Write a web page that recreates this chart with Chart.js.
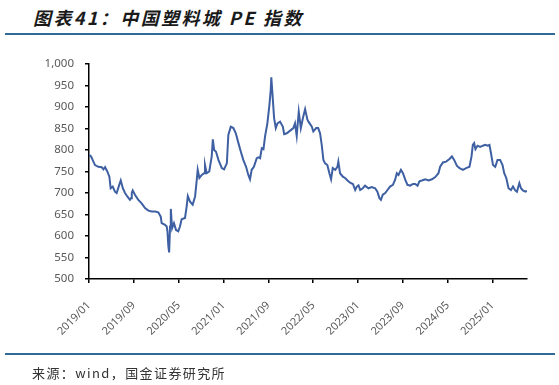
<!DOCTYPE html>
<html>
<head>
<meta charset="utf-8">
<script src="https://cdn.jsdelivr.net/npm/chart.js@4.4.1/dist/chart.umd.min.js"></script>
<style>
  html, body { margin: 0; padding: 0; background: #fff; }
  #wrap { position: relative; width: 559px; height: 385px; overflow: hidden; }
  #chart { position: absolute; left: 0; top: 0; }
  .title {
    position: absolute; left: 33px; top: 4px;
    font-family: "Noto Sans CJK SC", sans-serif; font-weight: bold; font-style: italic;
    font-size: 18px; letter-spacing: 2.4px; color: #1a1a1a; white-space: nowrap;
  }
  .rule { position: absolute; left: 5px; width: 550px; height: 2px; background: #2f6a99; }
  .source {
    position: absolute; left: 32px; top: 363px;
    font-family: "Noto Sans CJK SC", sans-serif; font-size: 13px; letter-spacing: 1.4px;
    color: #333; white-space: nowrap;
  }
</style>
</head>
<body>
<div id="wrap">
  <div class="title">图表41：中国塑料城 PE 指数</div>
  <div class="rule" style="top:33px"></div>
  <canvas id="chart" width="559" height="385"></canvas>
  <div class="rule" style="top:353px"></div>
  <div class="source">来源：wind，国金证券研究所</div>
</div>
<script>
// PE 指数
const dates = [
  '2019-01-01','2019-01-12','2019-02-03','2019-02-21','2019-03-09','2019-03-18','2019-03-27','2019-04-09',
  '2019-04-20','2019-04-27','2019-05-08','2019-05-20','2019-05-29','2019-06-13','2019-06-21','2019-07-02',
  '2019-07-14','2019-07-26','2019-08-10','2019-08-16','2019-08-20','2019-08-25','2019-09-07','2019-09-25',
  '2019-10-13','2019-11-01','2019-11-19','2019-12-07','2019-12-25','2020-01-12','2020-01-25','2020-01-30',
  '2020-02-18','2020-02-27','2020-03-01','2020-03-06','2020-03-10','2020-03-15','2020-03-19','2020-03-26',
  '2020-04-06','2020-04-17','2020-04-29','2020-05-08','2020-05-17','2020-06-05','2020-06-14','2020-06-20',
  '2020-07-02','2020-07-16','2020-07-29','2020-08-08','2020-08-13','2020-08-22','2020-09-05','2020-09-17',
  '2020-09-22','2020-10-01','2020-10-15','2020-10-28','2020-11-04','2020-11-11','2020-11-21','2020-12-04',
  '2020-12-22','2021-01-04','2021-01-19','2021-01-27','2021-02-10','2021-02-24','2021-03-07','2021-03-21',
  '2021-04-04','2021-04-17','2021-05-02','2021-05-14','2021-05-23','2021-06-02','2021-06-14','2021-06-29',
  '2021-07-08','2021-07-17','2021-07-26','2021-08-05','2021-08-14','2021-08-26','2021-09-07','2021-09-14',
  '2021-09-17','2021-09-23','2021-10-02','2021-10-11','2021-10-20','2021-11-04','2021-11-19','2021-11-26',
  '2021-12-10','2021-12-28','2022-01-15','2022-01-24','2022-02-03','2022-02-14','2022-02-25','2022-03-06',
  '2022-03-18','2022-03-30','2022-04-06','2022-04-24','2022-05-02','2022-05-17','2022-05-28','2022-06-08',
  '2022-06-17','2022-06-26','2022-07-05','2022-07-17','2022-07-28','2022-08-07','2022-08-16','2022-08-29',
  '2022-09-11','2022-09-16','2022-09-25','2022-10-10','2022-10-22','2022-11-05','2022-11-19','2022-12-04',
  '2022-12-16','2022-12-25','2023-01-04','2023-01-13','2023-01-27','2023-02-09','2023-02-27','2023-03-15',
  '2023-04-03','2023-04-15','2023-04-26','2023-05-04','2023-05-14','2023-05-27','2023-06-09','2023-06-23',
  '2023-07-08','2023-07-20','2023-07-29','2023-08-08','2023-08-21','2023-09-02','2023-09-14','2023-09-26',
  '2023-10-11','2023-10-25','2023-11-07','2023-11-20','2023-11-30','2023-12-13','2024-01-01','2024-01-19',
  '2024-02-07','2024-02-25','2024-03-12','2024-03-21','2024-04-06','2024-04-23','2024-05-11','2024-05-24',
  '2024-06-06','2024-06-21','2024-07-05','2024-07-23','2024-08-10','2024-08-28','2024-09-09','2024-09-16',
  '2024-09-23','2024-09-30','2024-10-11','2024-10-25','2024-11-10','2024-11-22','2024-12-05','2024-12-15',
  '2024-12-23','2025-01-04','2025-01-16','2025-01-28','2025-02-12','2025-02-25','2025-03-04','2025-03-15',
  '2025-03-27','2025-04-10','2025-04-21','2025-05-03','2025-05-12','2025-05-25','2025-06-04','2025-06-14',
  '2025-06-27','2025-07-06'
];
const peIndex = [
  789, 785, 765, 761, 760, 755, 760, 750,
  738, 711, 715, 703, 700, 719, 729, 711,
  700, 692, 684, 688, 700, 706, 696, 684,
  676, 665, 659, 657, 657, 655, 645, 630,
  626, 622, 611, 576, 562, 622, 663, 618,
  630, 614, 611, 622, 639, 642, 669, 693,
  680, 673, 692, 731, 754, 735, 742, 746,
  765, 746, 750, 785, 825, 800, 796, 777,
  758, 755, 769, 835, 854, 851, 839, 816,
  796, 777, 761, 742, 732, 754, 761, 781,
  783, 781, 804, 802, 833, 862, 905, 940,
  969, 932, 874, 851, 862, 866, 854, 837,
  839, 845, 851, 862, 833, 889, 851, 874,
  895, 871, 866, 854, 843, 851, 851, 839,
  812, 777, 769, 765, 746, 732, 758, 754,
  761, 773, 746, 738, 735, 729, 724, 721,
  707, 715, 718, 707, 711, 717, 711, 714,
  711, 703, 688, 684, 696, 700, 707, 715,
  719, 731, 746, 742, 754, 746, 731, 719,
  717, 721, 721, 717, 727, 729, 732, 729,
  732, 737, 746, 761, 771, 773, 779, 785,
  777, 763, 758, 754, 758, 761, 785, 812,
  816, 802, 810, 807, 810, 812, 810, 812,
  793, 765, 761, 777, 777, 765, 746, 735,
  711, 707, 715, 706, 703, 723, 711, 706,
  703, 705
];
const yTicks = [500, 550, 600, 650, 700, 750, 800, 850, 900, 950, 1000];
const tickStepMonths = 8;

// months since 2019/01
function monthIndex(d) {
  const [y, m, day] = d.split('-').map(Number);
  return (y - 2019) * 12 + (m - 1) + (day - 1) / 30;
}
function monthLabel(v) {
  const y = 2019 + Math.floor(v / 12);
  const m = (v % 12) + 1;
  return y + '/' + String(m).padStart(2, '0');
}

const points = dates.map((d, i) => ({ x: monthIndex(d), y: peIndex[i] }));

new Chart(document.getElementById('chart').getContext('2d'), {
  type: 'line',
  data: {
    datasets: [{
      label: 'PE指数',
      data: points,
      borderColor: '#3e60a3',
      borderWidth: 2,
      pointRadius: 0,
      tension: 0,
      fill: false
    }]
  },
  options: {
    responsive: false,
    animation: false,
    devicePixelRatio: 1,
    layout: { padding: { left: 0, top: 64, right: 32, bottom: 26 } },
    plugins: { legend: { display: false }, tooltip: { enabled: false } },
    scales: {
      x: {
        type: 'linear',
        min: 0,
        max: points[points.length - 1].x,
        afterFit: (axis) => { axis.height = 80; },
        border: { display: true, color: '#000', width: 1.5 },
        grid: { drawOnChartArea: false, drawTicks: true, tickLength: 4, color: '#000', lineWidth: 1.5 },
        ticks: {
          stepSize: tickStepMonths,
          includeBounds: false,
          autoSkip: false,
          minRotation: 45,
          maxRotation: 45,
          padding: 16,
          color: '#595959',
          font: { family: '"Noto Sans", sans-serif', size: 11 },
          callback: (v) => monthLabel(v)
        }
      },
      y: {
        min: yTicks[0],
        max: yTicks[yTicks.length - 1],
        afterFit: (axis) => { axis.width = 89; },
        afterBuildTicks: (axis) => { axis.ticks = yTicks.map(v => ({ value: v })); },
        border: { display: true, color: '#000', width: 1.5 },
        grid: { drawOnChartArea: false, drawTicks: true, tickLength: 4, color: '#000', lineWidth: 1.5 },
        ticks: {
          padding: 11,
          color: '#595959',
          font: { family: '"Noto Sans", sans-serif', size: 11.5 },
          callback: (v) => v.toLocaleString('en-US')
        }
      }
    }
  }
});
</script>
</body>
</html>
